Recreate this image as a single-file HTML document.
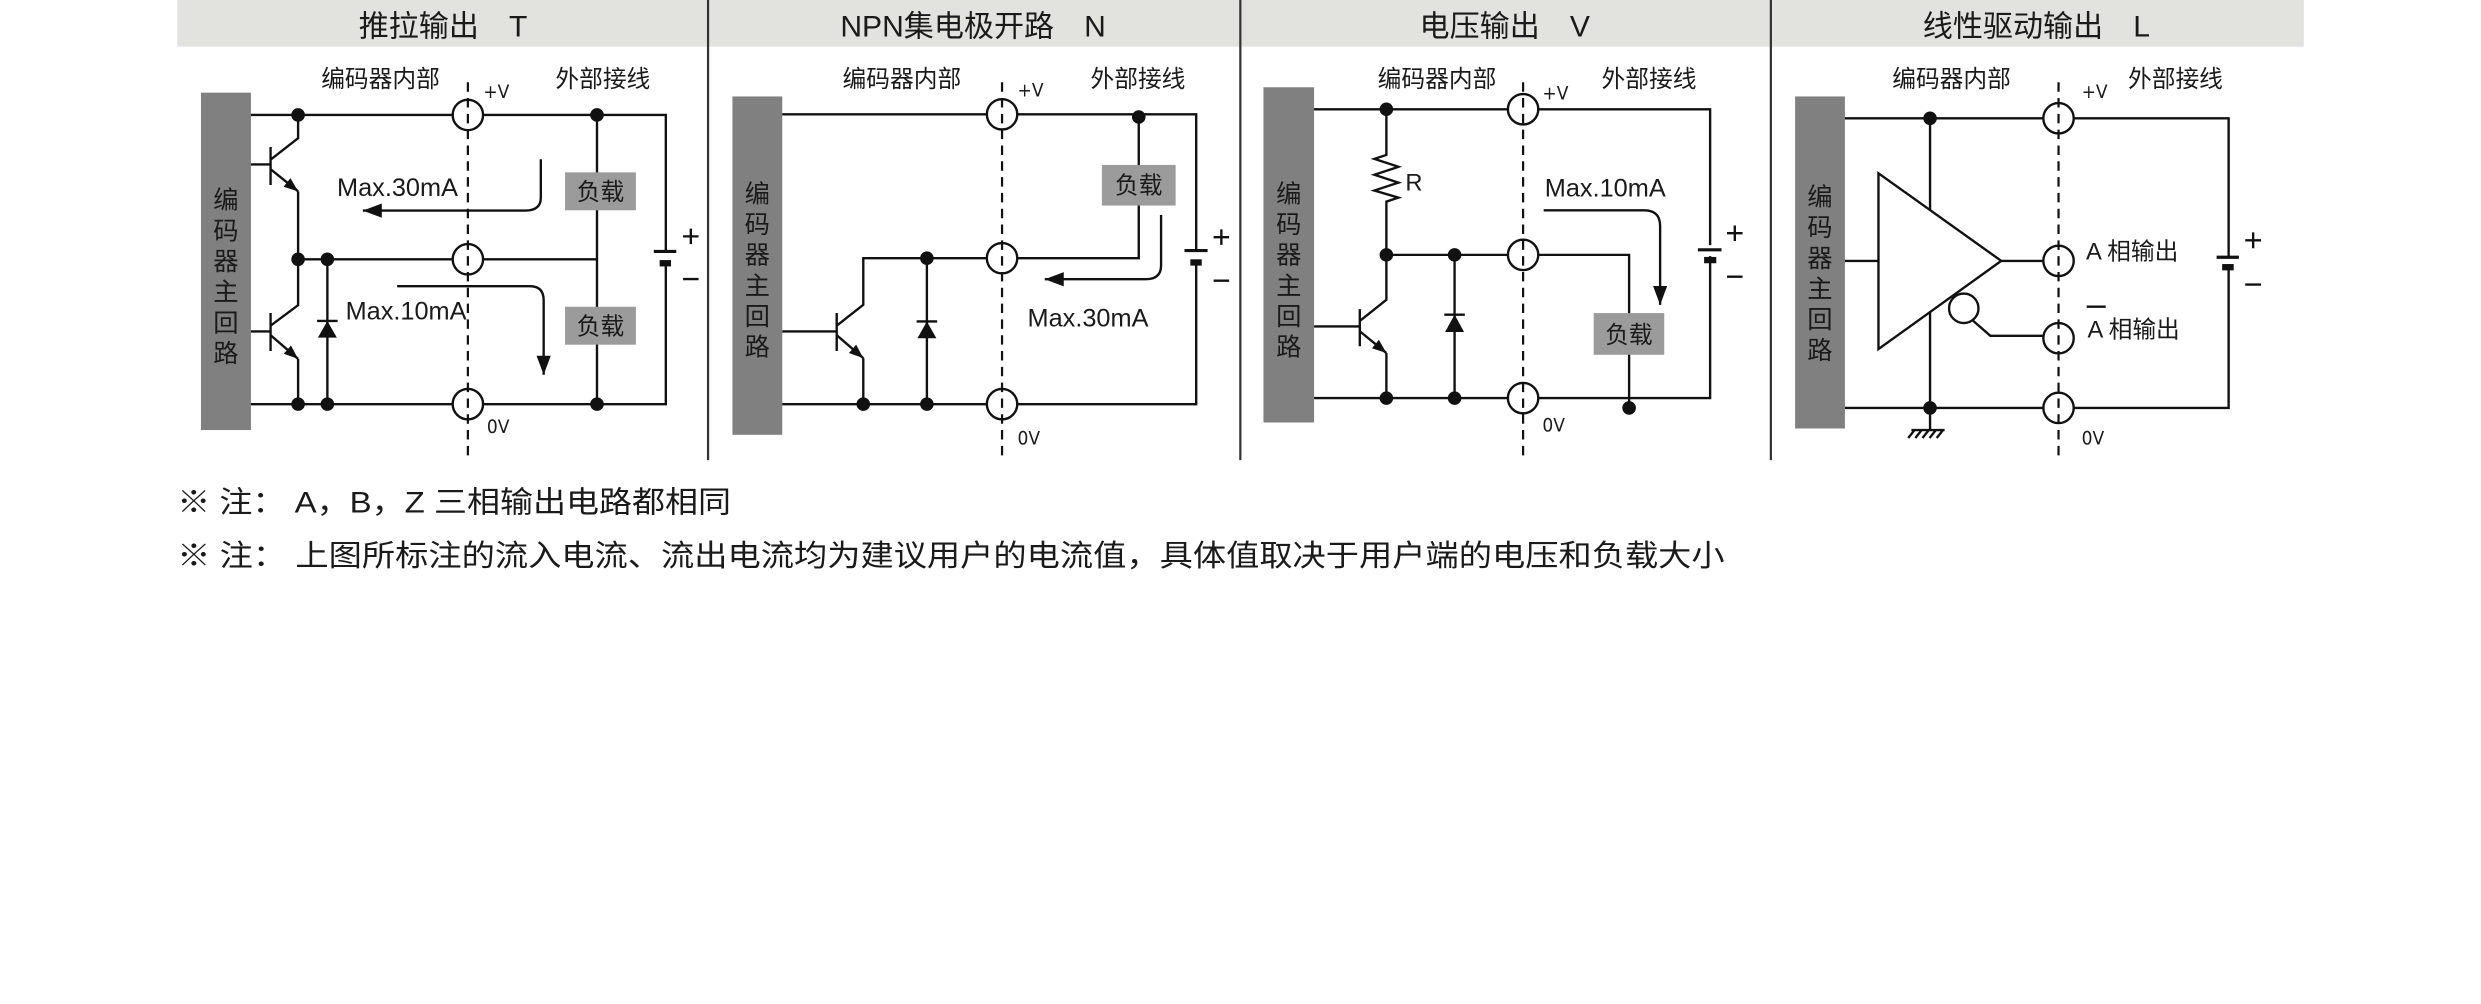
<!DOCTYPE html>
<html><head><meta charset="utf-8"><style>
html,body{margin:0;padding:0;background:#fff;width:2481px;height:1004px;overflow:hidden}
svg{display:block}
text{font-family:"Liberation Sans","Noto Sans CJK SC",sans-serif;fill:#1a1a1a}
.w{stroke:#111;stroke-width:1.5;fill:none}
.d{stroke:#111;stroke-width:1.4;stroke-dasharray:6 4;fill:none}
.c{stroke:#111;stroke-width:1.5;fill:#fff}
.b{fill:#808080}
.ld{fill:#9b9b9b}
.lbl{font-size:15px}
.ttl{font-size:19px}
.mx{font-size:16px}
.v{font-size:12px;font-family:"DejaVu Sans Condensed","Liberation Sans",sans-serif}
.vt{font-size:16px;fill:#262626;text-anchor:middle}
</style></head><body>
<svg width="2481" height="1004" viewBox="0 0 1568 635" preserveAspectRatio="none" xmlns="http://www.w3.org/2000/svg">
<defs>
<marker id="ah" markerUnits="userSpaceOnUse" markerWidth="13" markerHeight="10" refX="12" refY="4.5" orient="auto"><path d="M0,0 L12,4.5 L0,9 z" fill="#111"/></marker>
<marker id="eh" markerUnits="userSpaceOnUse" markerWidth="10" markerHeight="8" refX="9" refY="3.5" orient="auto"><path d="M0,0 L9,3.5 L0,7 z" fill="#111"/></marker>
</defs>
<!-- header -->
<rect x="112" y="0" width="1344" height="29.5" fill="#e2e2de"/>
<g stroke="#333" stroke-width="1.4">
<line x1="447.5" y1="0" x2="447.5" y2="291"/>
<line x1="783.9" y1="0" x2="783.9" y2="291"/>
<line x1="1119.2" y1="0" x2="1119.2" y2="291"/>
</g>
<text class="ttl" x="280" y="23" text-anchor="middle">推拉输出　T</text>
<text class="ttl" x="615" y="23" text-anchor="middle">NPN集电极开路　N</text>
<text class="ttl" x="951" y="23" text-anchor="middle">电压输出　V</text>
<text class="ttl" x="1287" y="23" text-anchor="middle">线性驱动输出　L</text>

<!-- ========== Panel 1 ========== -->
<text class="lbl" x="203" y="55">编码器内部</text>
<text class="lbl" x="351" y="55">外部接线</text>
<rect class="b" x="127" y="58.6" width="31.6" height="213.4"/>
<g class="vt"><text x="142.8" y="132">编</text><text x="142.8" y="151.4">码</text><text x="142.8" y="170.8">器</text><text x="142.8" y="190.2">主</text><text x="142.8" y="209.6">回</text><text x="142.8" y="229">路</text></g>
<path class="w" d="M158.6 72.7 H420.8 V159 M420.8 166.5 V255.6 H158.6"/>
<path class="w" d="M188.4 164 H377.3 M377.3 72.7 V255.6"/>
<path class="w" d="M188.4 72.7 V87.4 L171 101 M171 93 V117 M158.6 104 H171"/>
<path class="w" d="M171 107 L188.4 121" marker-end="url(#eh)"/>
<path class="w" d="M188.4 121 V193 L171 206 M171 198 V222 M158.6 209.6 H171"/>
<path class="w" d="M171 212 L188.4 227" marker-end="url(#eh)"/>
<path class="w" d="M188.4 227 V255.6 M206.9 164 V255.6"/>
<path d="M200.9 213.5 L212.9 213.5 L206.9 203 z" fill="#111"/><line class="w" x1="200.4" y1="203" x2="213.4" y2="203"/>
<rect class="ld" x="357.1" y="109" width="44.8" height="24"/>
<rect class="ld" x="357.1" y="194" width="44.8" height="24"/>
<text class="lbl" x="379.5" y="126.5" text-anchor="middle">负载</text>
<text class="lbl" x="379.5" y="211.5" text-anchor="middle">负载</text>
<line x1="413.2" y1="159" x2="427.4" y2="159" stroke="#111" stroke-width="2"/>
<rect x="416.9" y="164.5" width="7.2" height="4" fill="#111"/>
<path class="w" d="M431.7 149.5 H441.5 M436.6 144.6 V154.4 M431.7 176.5 H441.5"/>
<path class="w" d="M341.8 100.7 V125 Q341.8 133.2 332 133.2 H229.3" marker-end="url(#ah)"/>
<path class="w" d="M251 181 H335 Q343.6 181 343.6 190 V237" marker-end="url(#ah)"/>
<text class="mx" x="213" y="124">Max.30mA</text>
<text class="mx" x="218.4" y="202">Max.10mA</text>
<circle class="c" cx="295.7" cy="72.7" r="9.6"/><circle class="c" cx="295.7" cy="164" r="9.6"/><circle class="c" cx="295.7" cy="255.6" r="9.6"/>
<line class="d" x1="295.7" y1="52" x2="295.7" y2="291"/>
<text class="v" x="305.5" y="62">+V</text><text class="v" x="307.7" y="274">0V</text>
<g fill="#111"><circle cx="188.4" cy="72.7" r="4.3"/><circle cx="377.3" cy="72.7" r="4.3"/><circle cx="188.4" cy="164" r="4.3"/><circle cx="206.9" cy="164" r="4.3"/><circle cx="188.4" cy="255.6" r="4.3"/><circle cx="206.9" cy="255.6" r="4.3"/><circle cx="377.3" cy="255.6" r="4.3"/></g>

<!-- ========== Panel 2 ========== -->
<text class="lbl" x="532.5" y="55">编码器内部</text>
<text class="lbl" x="689.2" y="55">外部接线</text>
<rect class="b" x="462.9" y="61" width="31.5" height="214"/>
<g class="vt"><text x="478.6" y="128">编</text><text x="478.6" y="147.4">码</text><text x="478.6" y="166.8">器</text><text x="478.6" y="186.2">主</text><text x="478.6" y="205.6">回</text><text x="478.6" y="225">路</text></g>
<path class="w" d="M494.4 72.3 H756 V158.5 M756 166 V255.6 H494.4"/>
<path class="w" d="M719.7 72.3 V163.3 H545.6 V192.8 L528.8 206 M528.8 198 V222 M494.4 209.6 H528.8"/>
<path class="w" d="M528.8 212 L545.6 226.5" marker-end="url(#eh)"/>
<path class="w" d="M545.6 226.5 V255.6 M585.8 163.3 V255.6"/>
<path d="M579.8 213.9 L591.8 213.9 L585.8 203.3 z" fill="#111"/><line class="w" x1="579.3" y1="203.3" x2="592.3" y2="203.3"/>
<rect class="ld" x="696.4" y="104.3" width="46.6" height="25.7"/>
<text class="lbl" x="719.7" y="122.5" text-anchor="middle">负载</text>
<line x1="748.6" y1="158.5" x2="763.2" y2="158.5" stroke="#111" stroke-width="2"/>
<rect x="752.3" y="164" width="7.2" height="4" fill="#111"/>
<path class="w" d="M767 150 H776.8 M771.9 145.1 V154.9 M767 177.5 H776.8"/>
<path class="w" d="M733.8 136 V168 Q733.8 176.6 724 176.6 H660.3" marker-end="url(#ah)"/>
<text class="mx" x="649.4" y="206.5">Max.30mA</text>
<circle class="c" cx="633.3" cy="72.3" r="9.6"/><circle class="c" cx="633.3" cy="163.3" r="9.6"/><circle class="c" cx="633.3" cy="255.6" r="9.6"/>
<line class="d" x1="633.3" y1="52" x2="633.3" y2="291"/>
<text class="v" x="643.1" y="61">+V</text><text class="v" x="643.1" y="281">0V</text>
<g fill="#111"><circle cx="719.7" cy="74" r="4.3"/><circle cx="585.8" cy="163.3" r="4.3"/><circle cx="545.6" cy="255.6" r="4.3"/><circle cx="585.8" cy="255.6" r="4.3"/></g>

<!-- ========== Panel 3 ========== -->
<text class="lbl" x="870.7" y="55">编码器内部</text>
<text class="lbl" x="1012.2" y="55">外部接线</text>
<rect class="b" x="798.5" y="55.2" width="32" height="212"/>
<g class="vt"><text x="814.5" y="128">编</text><text x="814.5" y="147.4">码</text><text x="814.5" y="166.8">器</text><text x="814.5" y="186.2">主</text><text x="814.5" y="205.6">回</text><text x="814.5" y="225">路</text></g>
<path class="w" d="M830.5 69.1 H1080.8 V155 M1080.8 162 V251.8 H830.5"/>
<path class="w" d="M876.2 69.1 V98 L868.6 100.5 L883.8 105.5 L868.6 110.5 L883.8 115.5 L868.6 120.5 L883.8 125 L876.2 127.5 V189.6 L859.4 203 M859.4 195.5 V219 M830.5 206.5 H859.4"/>
<path class="w" d="M859.4 209.5 L876.2 223.3" marker-end="url(#eh)"/>
<path class="w" d="M876.2 223.3 V251.8 M876.2 161.2 H1029.6 V258 M919.3 161.2 V251.8"/>
<path d="M913.3 210 L925.3 210 L919.3 199 z" fill="#111"/><line class="w" x1="912.8" y1="199" x2="925.8" y2="199"/>
<text x="888.2" y="120.5" font-size="15">R</text>
<rect class="ld" x="1007.2" y="198" width="44.6" height="26.4"/>
<text class="lbl" x="1029.5" y="217" text-anchor="middle">负载</text>
<line x1="1073.1" y1="158" x2="1088" y2="158" stroke="#111" stroke-width="2"/>
<rect x="1077" y="162.5" width="7.7" height="4" fill="#111"/>
<path class="w" d="M1091.5 147.5 H1101.3 M1096.4 142.6 V152.4 M1091.5 175 H1101.3"/>
<path class="w" d="M975.6 133 H1039 Q1049.2 133 1049.2 143 V192.8" marker-end="url(#ah)"/>
<text class="mx" x="976.3" y="124.3">Max.10mA</text>
<circle class="c" cx="962.6" cy="69.1" r="9.6"/><circle class="c" cx="962.6" cy="161.2" r="9.6"/><circle class="c" cx="962.6" cy="251.8" r="9.6"/>
<line class="d" x1="962.6" y1="52" x2="962.6" y2="291"/>
<text class="v" x="974.8" y="63">+V</text><text class="v" x="974.8" y="273">0V</text>
<g fill="#111"><circle cx="876.2" cy="69.1" r="4.3"/><circle cx="876.2" cy="161.2" r="4.3"/><circle cx="919.3" cy="161.2" r="4.3"/><circle cx="876.2" cy="251.8" r="4.3"/><circle cx="919.3" cy="251.8" r="4.3"/><circle cx="1029.6" cy="258" r="4.3"/></g>

<!-- ========== Panel 4 ========== -->
<text class="lbl" x="1195.9" y="55">编码器内部</text>
<text class="lbl" x="1344.9" y="55">外部接线</text>
<rect class="b" x="1134.5" y="61" width="31.5" height="210"/>
<g class="vt"><text x="1150.2" y="130">编</text><text x="1150.2" y="149.4">码</text><text x="1150.2" y="168.8">器</text><text x="1150.2" y="188.2">主</text><text x="1150.2" y="207.6">回</text><text x="1150.2" y="227">路</text></g>
<path class="w" d="M1166 74.8 H1408.5 V162.7 M1408.5 169 V258 H1166"/>
<path class="w" d="M1219.8 74.8 V272 M1166 165 H1187.2 M1264.8 165 H1301 M1246 202 L1257.9 212.4 H1301"/>
<polygon class="c" points="1187.2,109.6 1187.2,220.8 1264.8,165"/>
<circle class="c" cx="1241.1" cy="195" r="9.3"/>
<path class="w" d="M1208 272 H1229 M1210 272 L1206 277 M1214.5 272 L1210.5 277 M1219 272 L1215 277 M1223.5 272 L1219.5 277 M1228 272 L1224 277"/>
<line x1="1400.9" y1="162.7" x2="1415" y2="162.7" stroke="#111" stroke-width="2"/>
<rect x="1404.4" y="167" width="7.3" height="4" fill="#111"/>
<path class="w" d="M1419 152 H1429 M1424 147 V157 M1419 180 H1429"/>
<text class="lbl" x="1318.4" y="164">A 相输出</text>
<text class="lbl" x="1319.3" y="213.5">A 相输出</text>
<line class="w" x1="1318.8" y1="194" x2="1330.8" y2="194"/>
<circle class="c" cx="1301" cy="74.8" r="9.6"/><circle class="c" cx="1301" cy="165" r="9.6"/><circle class="c" cx="1301" cy="213.9" r="9.6"/><circle class="c" cx="1301" cy="258" r="9.6"/>
<line class="d" x1="1301" y1="52" x2="1301" y2="291"/>
<text class="v" x="1315.6" y="62">+V</text><text class="v" x="1315.6" y="281">0V</text>
<g fill="#111"><circle cx="1219.8" cy="74.8" r="4.3"/><circle cx="1219.8" cy="258" r="4.3"/></g>

<!-- notes -->
<text x="112" y="324" font-size="19" textLength="350" lengthAdjust="spacingAndGlyphs">※ 注：  A，B，Z 三相输出电路都相同</text>
<text x="112" y="358" font-size="19" textLength="978" lengthAdjust="spacingAndGlyphs">※ 注：  上图所标注的流入电流、流出电流均为建议用户的电流值，具体值取决于用户端的电压和负载大小</text>
</svg>
</body></html>
